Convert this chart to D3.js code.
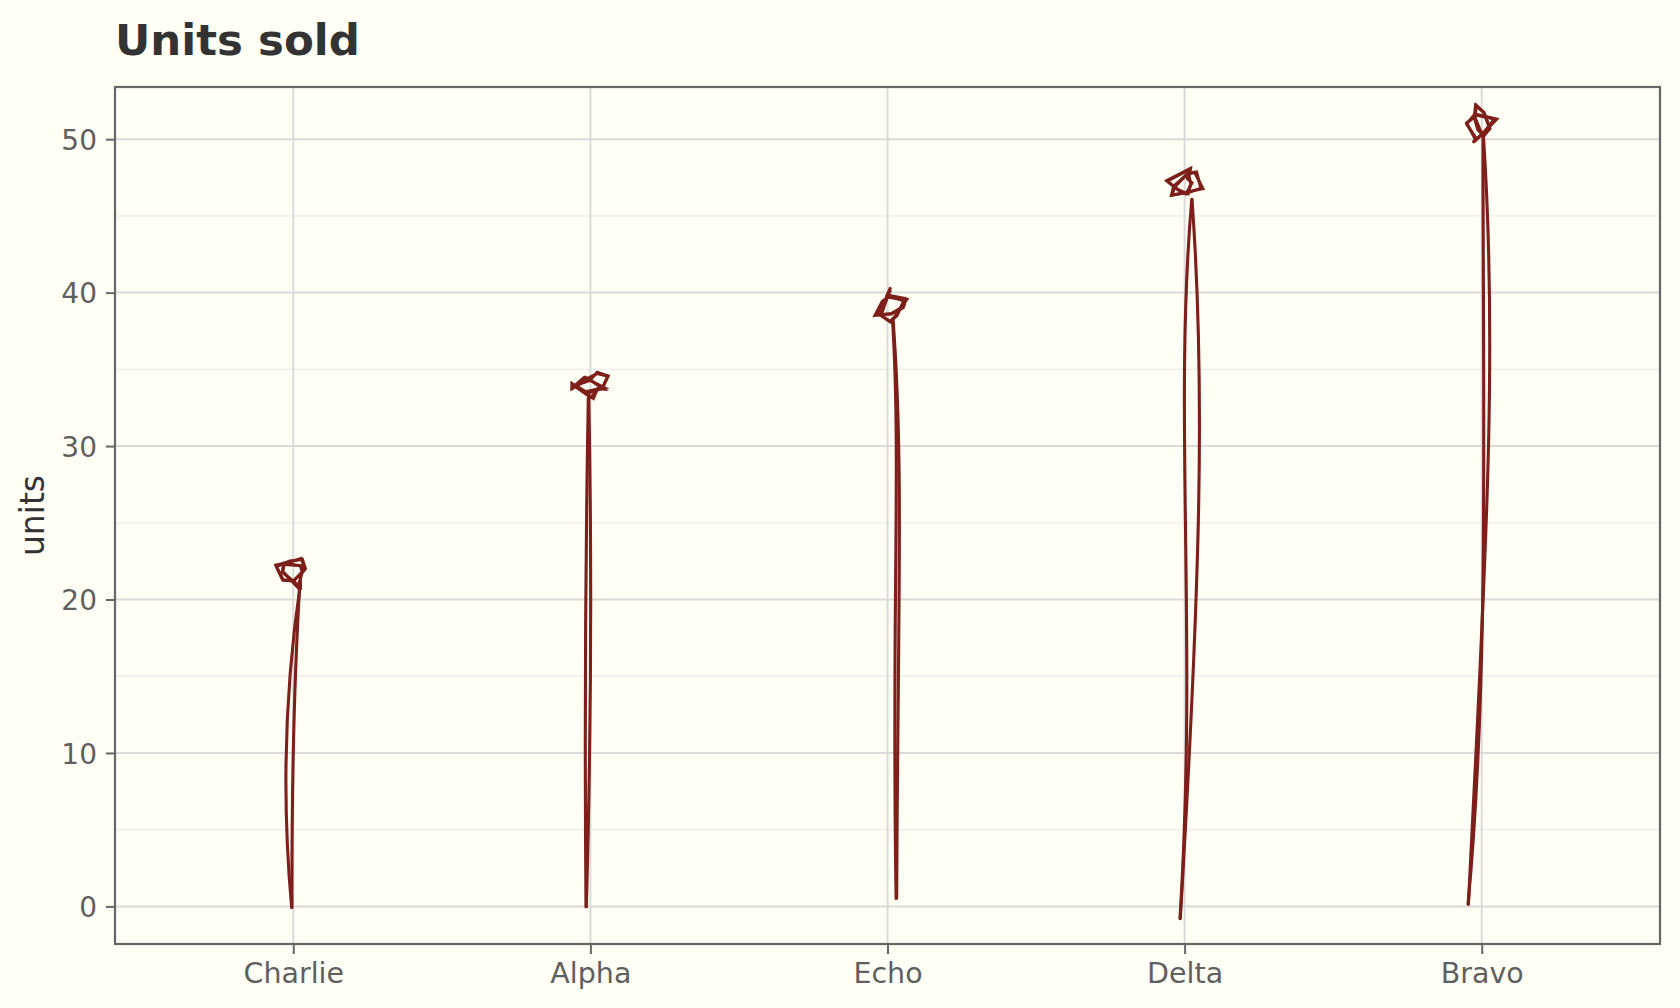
<!DOCTYPE html>
<html><head><meta charset="utf-8">
<script src="https://cdn.jsdelivr.net/npm/d3@7"></script>
<style>
html,body{margin:0;padding:0;background:#fffff5;}
svg{display:block;}
text{font-family:"DejaVu Sans",sans-serif;}
</style>
</head><body>
<svg id="chart" width="1680" height="1008"></svg>
<script>
// ---------------- data ----------------
const categories = ["Charlie", "Alpha", "Echo", "Delta", "Bravo"];
const units = [22, 34, 39, 47, 51];
const yTicks = [0, 10, 20, 30, 40, 50];
const yMinorTicks = [5, 15, 25, 35, 45];
const yTickLabels = ["0", "10", "20", "30", "40", "50"];
const titleText = "Units sold";
const yTitle = "units";

// ---------------- sketch style (hand-drawn wobble, px; style only) ----------------
const stemSketch = [
  [ {t:[7.2,14.6], bo:[-1.6,1.3], a:-13, b:-13, d:0.33},
    {t:[6.6,14.0], bo:[-1.3,1.0], a:-3.5, b:-3.5, d:0.30} ],
  [ {t:[-2.1,13.3], bo:[-4.4,0.4], a:-2.2, b:-2.2, d:0.33},
    {t:[-1.6,13.0], bo:[-4.0,0.2], a:4, b:4, d:0.33} ],
  [ {t:[5.5,11.0], bo:[9.2,-8.4], a:10, b:3, d:0.25},
    {t:[5.0,11.5], bo:[8.6,-8.0], a:8, b:-3, d:0.25} ],
  [ {t:[7.1,14.6], bo:[-4.6,12.3], a:-15, b:13, d:0.30},
    {t:[7.4,14.2], bo:[-4.3,12.0], a:17, b:14, d:0.27} ],
  [ {t:[1.3,11.6], bo:[-13.7,-2.4], a:5, b:17, d:0.35},
    {t:[1.6,11.2], bo:[-13.3,-2.0], a:20, b:9, d:0.30} ]
];
const markerRadius = 15;
const markerSeeds = [11, 23, 37, 41, 59];

// deterministic jitter generator for the sketchy marker outline (style only)
function jitterGen(seed){
  let s = seed >>> 0;
  return function(){
    s = (s + 0x6D2B79F5) >>> 0;
    let t = s;
    t = Math.imul(t ^ (t >>> 15), t | 1);
    t ^= t + Math.imul(t ^ (t >>> 7), t | 61);
    return ((t ^ (t >>> 14)) >>> 0) / 4294967296;
  };
}

// ---------------- layout ----------------
const W = 1680, H = 1008;
const panel = {left:115, right:1660, top:87, bottom:944};
const ink = "#7d1f1a";

const svg = d3.select("#chart");
svg.append("rect").attr("width", W).attr("height", H).attr("fill", "#fffff5");

const x = d3.scalePoint().domain(categories).range([panel.left, panel.right]).padding(0.6);
const y = d3.scaleLinear().domain([-2.45, 53.4]).range([panel.bottom, panel.top]);

const grid = svg.append("g");
grid.selectAll("line.minor").data(yMinorTicks).join("line")
  .attr("x1", panel.left).attr("x2", panel.right)
  .attr("y1", d => y(d)).attr("y2", d => y(d))
  .attr("stroke", "#ececec").attr("stroke-width", 1.3);
grid.selectAll("line.majory").data(yTicks).join("line")
  .attr("x1", panel.left).attr("x2", panel.right)
  .attr("y1", d => y(d)).attr("y2", d => y(d))
  .attr("stroke", "#dadada").attr("stroke-width", 2);
grid.selectAll("line.majorx").data(categories).join("line")
  .attr("x1", d => x(d)).attr("x2", d => x(d))
  .attr("y1", panel.top).attr("y2", panel.bottom)
  .attr("stroke", "#dadada").attr("stroke-width", 2);

// ---------------- stems ----------------
const stems = svg.append("g");
categories.forEach((c, i) => {
  const xc = x(c), yv = y(units[i]), y0 = y(0);
  stemSketch[i].forEach(s => {
    const p0 = [xc + s.t[0], yv + s.t[1]];
    const p3 = [xc + s.bo[0], y0 + s.bo[1]];
    const dx = p3[0] - p0[0], dy = p3[1] - p0[1];
    const p1 = [p0[0] + dx * s.d + s.a, p0[1] + dy * s.d];
    const p2 = [p0[0] + dx * 2 * s.d + s.b, p0[1] + dy * 2 * s.d];
    const path = d3.path();
    path.moveTo(p0[0], p0[1]);
    path.bezierCurveTo(p1[0], p1[1], p2[0], p2[1], p3[0], p3[1]);
    stems.append("path").attr("d", path.toString())
      .attr("fill", "none").attr("stroke", ink).attr("stroke-width", 3.1)
      .attr("stroke-linecap", "round");
  });
});

// ---------------- markers ----------------
const markers = svg.append("g");
categories.forEach((c, i) => {
  const cx = x(c), cy = y(units[i]);
  const rnd = jitterGen(markerSeeds[i]);
  for (let loop = 0; loop < 2; loop++) {
    const n = 6;
    const a0 = rnd() * Math.PI * 2;
    const ox = (rnd() - 0.5) * 6, oy = (rnd() - 0.5) * 6;
    const base = [];
    for (let k = 0; k < n; k++) {
      const ang = a0 + k * 2 * Math.PI / n + (rnd() - 0.5) * 1.4;
      const r = markerRadius * (0.45 + rnd() * 0.8);
      base.push([cx + ox + r * Math.cos(ang), cy + oy + r * Math.sin(ang)]);
    }
    for (let pass = 0; pass < 2; pass++) {
      const pts = base.map(p => [p[0] + (rnd() - 0.5) * 3, p[1] + (rnd() - 0.5) * 3]);
      const path = d3.path();
      path.moveTo(pts[0][0], pts[0][1]);
      for (let k = 1; k < n; k++) path.lineTo(pts[k][0], pts[k][1]);
      path.lineTo(pts[0][0], pts[0][1]);
      const ov = 0.3 + rnd() * 0.4;
      path.lineTo(pts[0][0] + (pts[1][0] - pts[0][0]) * ov, pts[0][1] + (pts[1][1] - pts[0][1]) * ov);
      markers.append("path").attr("d", path.toString())
        .attr("fill", "none").attr("stroke", ink).attr("stroke-width", 3)
        .attr("stroke-linejoin", "miter").attr("stroke-miterlimit", 6)
        .attr("stroke-linecap", "round");
    }
  }
});

// ---------------- panel border ----------------
svg.append("rect")
  .attr("x", panel.left).attr("y", panel.top)
  .attr("width", panel.right - panel.left).attr("height", panel.bottom - panel.top)
  .attr("fill", "none").attr("stroke", "#666666").attr("stroke-width", 2.2);

// ---------------- axes ----------------
const yAxis = d3.axisLeft(y).tickValues(yTicks).tickFormat((d, i) => yTickLabels[i])
  .tickSize(9).tickPadding(9);
const gy = svg.append("g").attr("transform", `translate(${panel.left},0)`).call(yAxis);
gy.select(".domain").remove();
gy.selectAll(".tick line").attr("stroke", "#666666").attr("stroke-width", 2);
gy.selectAll(".tick text").attr("fill", "#5f5f5f").style("font-size", "28px")
  .style("font-family", "'DejaVu Sans', sans-serif").attr("dy", "0.36em");

const xAxis = d3.axisBottom(x).tickSize(10).tickPadding(9);
const gx = svg.append("g").attr("transform", `translate(0,${panel.bottom})`).call(xAxis);
gx.select(".domain").remove();
gx.selectAll(".tick line").attr("stroke", "#666666").attr("stroke-width", 2);
gx.selectAll(".tick text").attr("fill", "#5f5f5f").style("font-size", "28.5px")
  .style("font-family", "'DejaVu Sans', sans-serif");

// ---------------- titles ----------------
svg.append("text").attr("x", panel.left).attr("y", 55)
  .attr("fill", "#333333").style("font-size", "43.5px").style("font-weight", "bold")
  .text(titleText);

svg.append("text")
  .attr("transform", `translate(44,${(panel.top + panel.bottom) / 2}) rotate(-90)`)
  .attr("text-anchor", "middle").attr("fill", "#333333").style("font-size", "33px")
  .text(yTitle);
</script>
</body></html>
